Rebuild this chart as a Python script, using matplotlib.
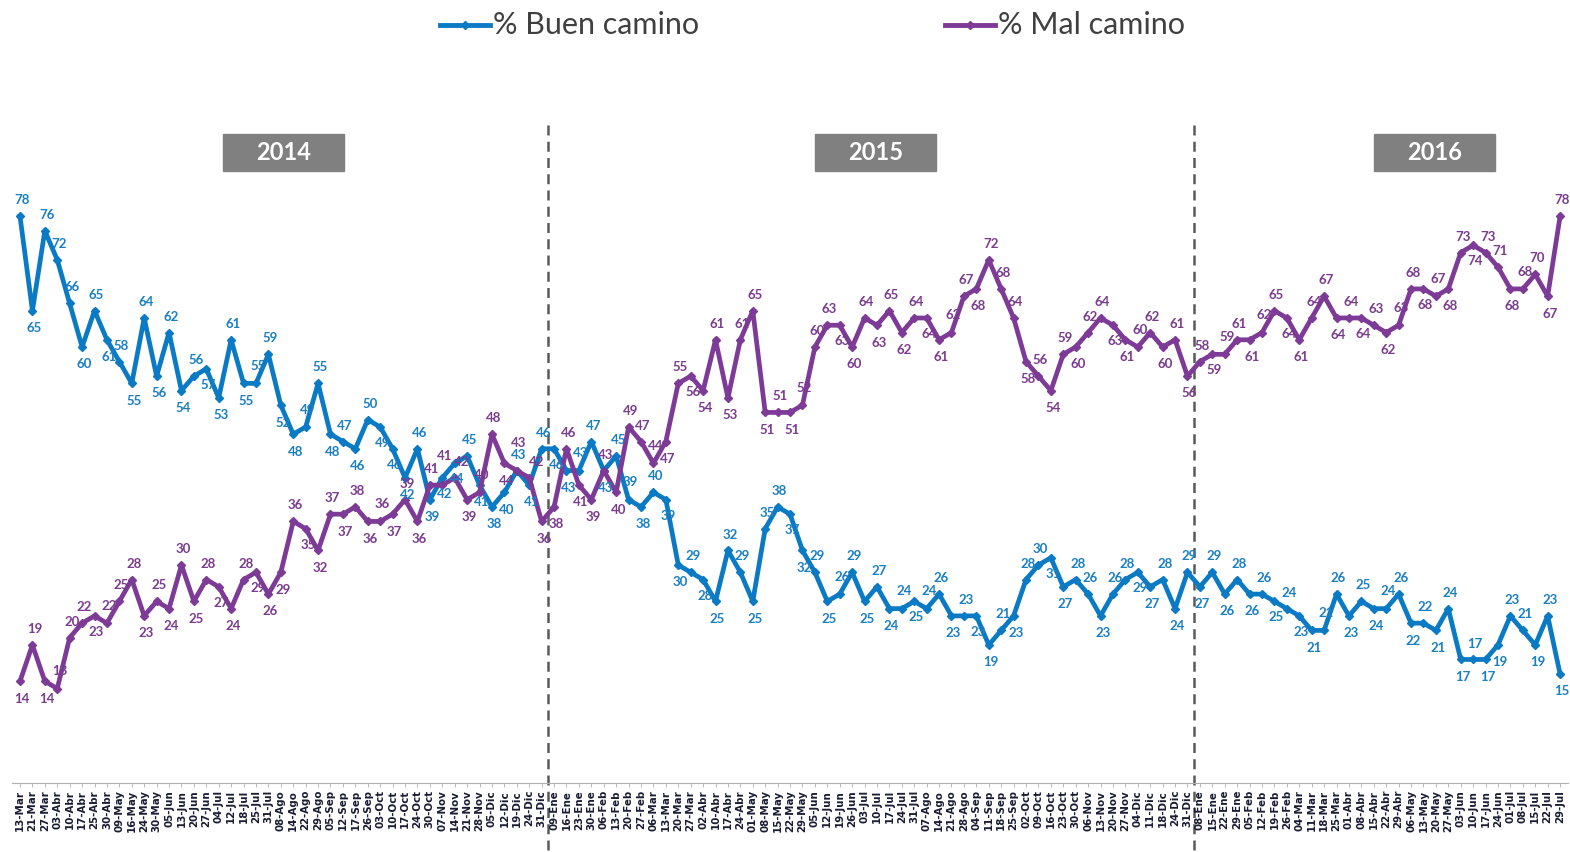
import matplotlib
matplotlib.use("Agg")
import matplotlib.pyplot as plt
from matplotlib.lines import Line2D
from matplotlib.patches import Rectangle

# fechas de cada medicion (semanal)
fechas_2014 = ["13-Mar", "21-Mar", "27-Mar", "03-Abr", "10-Abr", "17-Abr", "25-Abr", "30-Abr",
               "09-May", "16-May", "24-May", "30-May", "05-Jun", "13-Jun", "20-Jun", "27-Jun",
               "04-Jul", "12-Jul", "18-Jul", "25-Jul", "31-Jul", "08-Ago", "14-Ago", "22-Ago",
               "29-Ago", "05-Sep", "12-Sep", "17-Sep", "26-Sep", "03-Oct", "10-Oct", "17-Oct",
               "24-Oct", "30-Oct", "07-Nov", "14-Nov", "21-Nov", "28-Nov", "05-Dic", "12-Dic",
               "19-Dic", "24-Dic", "31-Dic"]
fechas_2015 = ["09-Ene", "16-Ene", "23-Ene", "30-Ene", "06-Feb", "13-Feb", "20-Feb", "27-Feb",
               "06-Mar", "13-Mar", "20-Mar", "27-Mar", "02-Abr", "10-Abr", "17-Abr", "24-Abr",
               "01-May", "08-May", "15-May", "22-May", "29-May", "05-Jun", "12-Jun", "19-Jun",
               "26-Jun", "03-Jul", "10-Jul", "17-Jul", "24-Jul", "31-Jul", "07-Ago", "14-Ago",
               "21-Ago", "28-Ago", "04-Sep", "11-Sep", "18-Sep", "25-Sep", "02-Oct", "09-Oct",
               "16-Oct", "23-Oct", "30-Oct", "06-Nov", "13-Nov", "20-Nov", "27-Nov", "04-Dic",
               "11-Dic", "18-Dic", "24-Dic", "31-Dic"]
fechas_2016 = ["08-Ene", "15-Ene", "22-Ene", "29-Ene", "05-Feb", "12-Feb", "19-Feb", "26-Feb",
               "04-Mar", "11-Mar", "18-Mar", "25-Mar", "01-Abr", "08-Abr", "15-Abr", "22-Abr",
               "29-Abr", "06-May", "13-May", "20-May", "27-May", "03-Jun", "10-Jun", "17-Jun",
               "24-Jun", "01-Jul", "08-Jul", "15-Jul", "22-Jul", "29-Jul"]
fechas = fechas_2014 + fechas_2015 + fechas_2016

buen_camino = [78, 65, 76, 72, 66, 60, 65, 61, 58, 55,
               64, 56, 62, 54, 56, 57, 53, 61, 55, 55,
               59, 52, 48, 49, 55, 48, 47, 46, 50, 49,
               46, 42, 46, 39, 42, 44, 45, 41, 38, 40,
               43, 41, 46,
               46, 43, 43, 47, 43, 45, 39,
               38, 40, 39, 30, 29, 28, 25, 32, 29, 25,
               35, 38, 37, 32, 29, 25, 26, 29, 25, 27,
               24, 24, 25, 24, 26, 23, 23, 23, 19, 21,
               23, 28, 30, 31, 27, 28, 26, 23, 26, 28,
               29, 27, 28, 24, 29,
               27, 29, 26, 28, 26,
               26, 25, 24, 23, 21, 21, 26, 23, 25, 24,
               24, 26, 22, 22, 21, 24, 17, 17, 17, 19,
               23, 21, 19, 23, 15]

mal_camino = [14, 19, 14, 13, 20, 22, 23, 22, 25, 28,
              23, 25, 24, 30, 25, 28, 27, 24, 28, 29,
              26, 29, 36, 35, 32, 37, 37, 38, 36, 36,
              37, 39, 36, 41, 41, 42, 39, 40, 48, 44,
              43, 42, 36,
              38, 46, 41, 39, 43, 40, 49,
              47, 44, 47, 55, 56, 54, 61, 53, 61, 65,
              51, 51, 51, 52, 60, 63, 63, 60, 64, 63,
              65, 62, 64, 64, 61, 62, 67, 68, 72, 68,
              64, 58, 56, 54, 59, 60, 62, 64, 63, 61,
              60, 62, 60, 61, 56,
              58, 59, 59, 61, 61,
              62, 65, 64, 61, 64, 67, 64, 64, 64, 63,
              62, 63, 68, 68, 67, 68, 73, 74, 73, 71,
              68, 68, 70, 67, 78]

anios = ["2014", "2015", "2016"]

azul = "#0b7ac4"
morado = "#7d3a96"
W, H = 1570, 852

plt.rcParams['font.family'] = ['Lato', 'DejaVu Sans']

fig = plt.figure(figsize=(W / 100, H / 100), dpi=100)
ax = fig.add_axes([12 / W, (H - 783) / H, (1568 - 12) / W, (783 - 100) / H])

x = list(range(len(fechas)))
ax.plot(x, buen_camino, color=azul, lw=3.4, marker="D", ms=4.5, zorder=3)
ax.plot(x, mal_camino, color=morado, lw=3.4, marker="D", ms=4.5, zorder=3)

paso = 12.42
ax.set_xlim((12 - 20) / paso, (1568 - 20) / paso)
ax.set_ylim(0, 94)

# colocacion de etiquetas: arriba en picos, abajo en valles, evitando choques
ocupadas = []
pt = 100 / 72.0


def choca(cx, cy, w, h):
    for (ox, oy, ow, oh) in ocupadas:
        if abs(cx - ox) < (w + ow) / 2 and abs(cy - oy) < (h + oh) / 2:
            return True
    return False


def poner(i, valores, color):
    v = valores[i]
    vecinos = []
    if i > 0:
        vecinos.append(valores[i - 1])
    if i < len(valores) - 1:
        vecinos.append(valores[i + 1])
    media = sum(vecinos) / len(vecinos)
    arriba = 11.5 if v >= media else -12.5
    px = i * paso
    py = v * 683 / 94.0
    w, h = 7.2 * len(str(v)), 10.5
    opciones = [(1.5, arriba), (1.5, -arriba), (5, arriba), (-3, arriba), (1.5, arriba * 1.7),
                (1.5, -arriba * 1.7)]
    elegido = opciones[0]
    for (dx, dy) in opciones:
        if not choca(px + dx * pt, py + dy * pt, w, h):
            elegido = (dx, dy)
            break
    ocupadas.append((px + elegido[0] * pt, py + elegido[1] * pt, w, h))
    ax.annotate(str(v), (i, v), xytext=elegido, textcoords="offset points",
                ha="center", va="center", fontsize=9.5, fontweight="bold",
                color=color, zorder=4)


for i in x:
    poner(i, buen_camino, "#1a7fc3")
    poner(i, mal_camino, "#7b3b8e")

# separadores de anio
n14 = len(fechas_2014)
n15 = len(fechas_2015)
for xs in [n14 - 0.5, n14 + n15 - 0.5]:
    ax.plot([xs, xs], [(783 - 125) / 683, -(852 - 783) / 683], transform=ax.get_xaxis_transform(),
            color="#5a5a5a", lw=1.8, ls=(0, (4, 2.5)), clip_on=False, zorder=1)

ax.set_xticks(x)
ax.set_xticklabels(fechas, rotation=90, fontsize=7.4, fontweight="bold", color="#1a1d33",
                   family="DejaVu Sans")
ax.tick_params(axis="x", length=3, width=0.6, color="#b0b0b0", pad=2)
ax.set_yticks([])
for s in ["left", "right", "top"]:
    ax.spines[s].set_visible(False)
ax.spines["bottom"].set_color("#b0b0b0")
ax.spines["bottom"].set_linewidth(0.8)

# cajas de anio
cajas = [223, 815, 1374]
for anio, x0 in zip(anios, cajas):
    fig.add_artist(Rectangle((x0 / W, 1 - 171 / H), 121 / W, 37 / H, transform=fig.transFigure,
                             color="#808080", zorder=5))
    fig.text((x0 + 60.5) / W, 1 - 153 / H, anio, ha="center", va="center", color="white",
             fontsize=17, fontweight="bold", zorder=6)

# leyenda
for (x0, texto, color) in [(440, "% Buen camino", azul), (945, "% Mal camino", morado)]:
    fig.add_artist(Line2D([x0 / W, (x0 + 50) / W], [1 - 25 / H, 1 - 25 / H], color=color, lw=3.5,
                          transform=fig.transFigure))
    fig.add_artist(Line2D([(x0 + 25) / W], [1 - 25 / H], color=color, marker="D", ms=4,
                          transform=fig.transFigure))
    fig.text((x0 + 53) / W, 1 - 25 / H, texto, ha="left", va="center", fontsize=22,
             color="#404040")

fig.savefig("out.png", dpi=100, facecolor="white")
